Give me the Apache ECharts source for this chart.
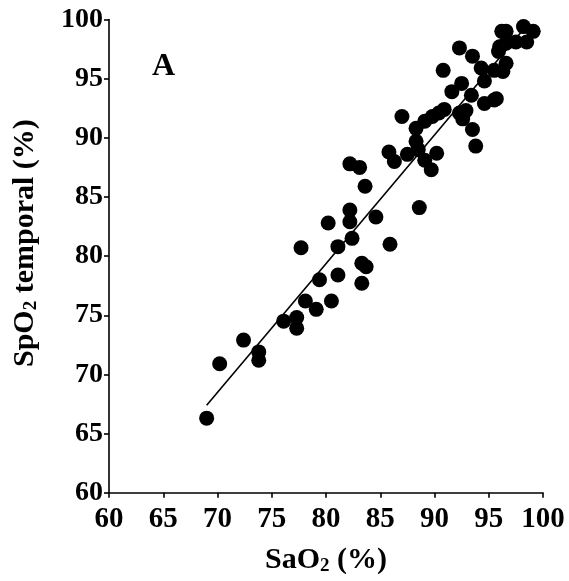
<!DOCTYPE html>
<html>
<head>
<meta charset="utf-8">
<script src="https://cdn.jsdelivr.net/npm/echarts@6/dist/echarts.min.js"></script>
<style>html,body{margin:0;padding:0;background:#fff}#c{width:569px;height:581px}</style>
</head>
<body>
<div id="c"></div>
<script>
// Data: [SaO2, SpO2 temporal]
const points = [
  [69.0, 66.3], [70.2, 70.9], [72.4, 72.9], [73.8, 71.9], [73.8, 71.2],
  [76.1, 74.5], [77.3, 74.8], [77.3, 73.9], [78.1, 76.2], [79.1, 75.5],
  [80.5, 76.2], [79.4, 78.0], [81.1, 78.4], [77.7, 80.7], [81.1, 80.8],
  [82.4, 81.5], [80.2, 82.8], [82.2, 83.9], [82.2, 82.9], [84.6, 83.3],
  [85.9, 81.0], [88.6, 84.1], [83.3, 79.4], [83.7, 79.1], [83.3, 77.7],
  [82.2, 87.8], [83.1, 87.5], [83.6, 85.9], [85.8, 88.8], [86.3, 88.0],
  [87.5, 88.6], [88.3, 89.7], [88.5, 89.0], [88.3, 90.8], [89.1, 88.1],
  [89.7, 87.3], [90.2, 88.7], [87.0, 91.8], [89.1, 91.4], [89.8, 91.8],
  [90.4, 92.1], [90.9, 92.4], [91.6, 93.9], [92.3, 92.1], [92.9, 92.3],
  [92.6, 91.6], [93.5, 90.7], [93.8, 89.3], [93.4, 93.6], [92.5, 94.6],
  [90.8, 95.7], [92.3, 97.6], [93.5, 96.9], [94.3, 95.9], [94.6, 94.8],
  [94.6, 92.9], [95.5, 93.2], [95.7, 93.3], [95.5, 95.7], [96.3, 95.6],
  [96.6, 96.3], [95.9, 97.3], [96.0, 97.7], [96.2, 99.0], [96.6, 99.0],
  [96.6, 98.0], [97.5, 98.1], [98.5, 98.1], [98.2, 99.4], [99.1, 99.0]
];
const fitLine = [[69.0, 67.4], [98.7, 99.7]];
const xTicks = [60, 65, 70, 75, 80, 85, 90, 95, 100];
const yTicks = [60, 65, 70, 75, 80, 85, 90, 95, 100];

const font = 'Liberation Serif';
const chart = echarts.init(document.getElementById('c'));
const nameRich = {
  a: {fontFamily: font, fontWeight: 'bold', fontSize: 30, color: '#000'},
  s: {fontFamily: font, fontWeight: 'bold', fontSize: 19, color: '#000', padding: [12, 0, 0, 0]}
};
const axisCommon = {
  type: 'value', interval: 5,
  splitLine: {show: false},
  axisLine: {show: true, lineStyle: {color: '#000', width: 1.6}},
  axisTick: {show: true, length: 5, lineStyle: {color: '#000', width: 1.6}},
  nameLocation: 'middle'
};
chart.setOption({
  animation: false,
  backgroundColor: '#fff',
  grid: {left: 109, right: 26, top: 19.5, bottom: 88.3, containLabel: false},
  xAxis: Object.assign({}, axisCommon, {
    min: xTicks[0], max: xTicks[xTicks.length - 1],
    axisLabel: {color: '#000', fontFamily: font, fontWeight: 'bold', fontSize: 29, margin: 12},
    name: '{a|SaO}{s|2}{a| (%)}',
    nameGap: 52,
    nameTextStyle: {rich: nameRich}
  }),
  yAxis: Object.assign({}, axisCommon, {
    min: yTicks[0], max: yTicks[yTicks.length - 1],
    axisLabel: {color: '#000', fontFamily: font, fontWeight: 'bold', fontSize: 28, margin: 6},
    name: '{a|SpO}{s|2}{a| temporal (%)}',
    nameGap: 68,
    nameTextStyle: {rich: nameRich, padding: [0, 0, 0, 26]}
  }),
  graphic: [{
    type: 'text', left: 152, top: 51,
    style: {text: 'A', fontFamily: font, fontWeight: 'bold', fontSize: 32, fill: '#000'}
  }],
  series: [
    {
      type: 'line', data: fitLine, symbol: 'none', z: 3,
      lineStyle: {color: '#000', width: 1.6}
    },
    {
      type: 'scatter', data: points, symbol: 'circle', symbolSize: 15, z: 2,
      itemStyle: {color: '#000', opacity: 1}
    }
  ]
});
</script>
</body>
</html>
